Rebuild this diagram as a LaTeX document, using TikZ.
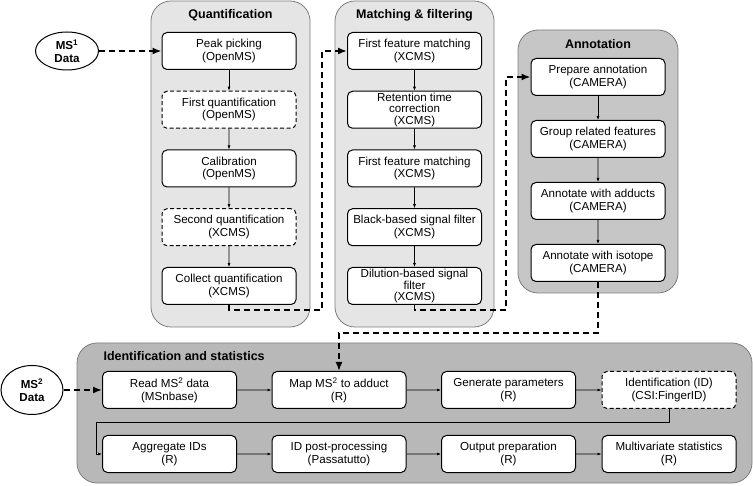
\documentclass[tikz,border=0pt]{standalone}
\usepackage{fontspec}
\setmainfont{Liberation Sans}
\usepackage{tikz}
\usetikzlibrary{trees,arrows.meta,shapes.geometric}

\definecolor{panellight}{RGB}{229,229,229}
\definecolor{panelmid}{RGB}{198,198,198}
\definecolor{paneldark}{RGB}{184,184,184}
\definecolor{panelline}{RGB}{125,125,125}

\begin{document}
\begin{tikzpicture}[x=1pt, y=-1pt,
  stepbox/.style={draw, line width=1pt, rounded corners=5pt, fill=white,
    minimum width=134pt, minimum height=37pt, align=center, inner sep=1pt,
    font=\fontsize{11.6}{12.5}\selectfont},
  tallbox/.style={stepbox, font=\fontsize{11.6}{11.5}\selectfont},
  optbox/.style={stepbox, dash pattern=on 4pt off 2.5pt},
  panel/.style={draw=panelline, line width=0.8pt, rounded corners=20pt},
  paneltitle/.style={font=\fontsize{12.5}{14}\selectfont\bfseries},
  datanode/.style={draw, ellipse, line width=1pt, fill=white, align=center,
    inner sep=0pt, font=\fontsize{11.6}{12.5}\selectfont\bfseries},
  bigflow/.style={line width=1.7pt, dash pattern=on 6pt off 4pt,
    -{Latex[length=9pt,width=7pt]}},
  smallflow/.style={line width=0.6pt, -{Latex[length=4pt,width=3pt]}},
  edge from parent/.style={draw, smallflow},
  grow=down]
  \useasboundingbox (0,0) rectangle (753,486);

  % panels
  \draw[panel, fill=panellight] (151,1) rectangle (310,327);
  \draw[panel, fill=panellight] (335,1) rectangle (494,327);
  \draw[panel, fill=panelmid] (518,30) rectangle (678,293);
  \draw[panel, fill=paneldark] (77,343) rectangle (752,483);

  \node[paneltitle] (quanttitle) at (230.5,15) {Quantification};
  \node[paneltitle] (matchtitle) at (414.5,15) {Matching \& filtering};
  \node[paneltitle] (annotitle) at (598,44) {Annotation};
  \node[paneltitle, anchor=west] (idtitle) at (100,356) {Identification and statistics};

  \node[datanode, minimum width=63pt, minimum height=38pt] (msone) at (67,51)
    {MS\textsuperscript{1}\\Data};
  \node[datanode, minimum width=62pt, minimum height=49pt] (mstwo) at (32,390)
    {MS\textsuperscript{2}\\Data};

  \begin{scope}[level distance=58.75pt]
    \node[stepbox] (peak) at (229,51) {Peak picking\\(OpenMS)}
    child { node[optbox] (quantone) {First quantification\\(OpenMS)}
        child { node[stepbox] (calib) {Calibration\\(OpenMS)}
            child { node[optbox] (quanttwo) {Second quantification\\(XCMS)}
                child { node[stepbox] (collect) {Collect quantification\\(XCMS)} }
            }
        }
    };
    \node[stepbox] (matchone) at (414.5,51) {First feature matching\\(XCMS)}
    child { node[tallbox] (rtcorr) {Retention time\\correction\\(XCMS)}
        child { node[stepbox] (matchtwo) {First feature matching\\(XCMS)}
            child { node[stepbox] (blankfilt) {Black-based signal filter\\(XCMS)}
                child { node[tallbox] (dilution) {Dilution-based signal\\filter\\(XCMS)} }
            }
        }
    };
  \end{scope}

  \begin{scope}[level distance=62pt]
    \node[stepbox] (prepare) at (598,77) {Prepare annotation\\(CAMERA)}
    child { node[stepbox] (group) {Group related features\\(CAMERA)}
        child { node[stepbox] (adducts) {Annotate with adducts\\(CAMERA)}
            child { node[stepbox] (isotope) {Annotate with isotope\\(CAMERA)} }
        }
    };
  \end{scope}

  \begin{scope}[grow=right, level distance=169.5pt, level 3/.style={level distance=160.5pt}]
    \node[stepbox] (readms) at (169.5,390) {Read MS\textsuperscript{2} data\\(MSnbase)}
    child { node[stepbox] (mapms) {Map MS\textsuperscript{2} to adduct\\(R)}
        child { node[stepbox] (genparam) {Generate parameters\\(R)}
            child { node[optbox] (ident) {Identification (ID)\\(CSI:FingerID)} }
        }
    };
    \node[stepbox] (aggregate) at (169.5,454) {Aggregate IDs\\(R)}
    child { node[stepbox] (postproc) {ID post-processing\\(Passatutto)}
        child { node[stepbox] (outprep) {Output preparation\\(R)}
            child { node[stepbox] (multistat) {Multivariate statistics\\(R)} }
        }
    };
  \end{scope}

  % links between the panels
  \coordinate (qbend) at (322,310);
  \coordinate (mbend) at (506,310);
  \coordinate (abend) at (339,333);
  \coordinate (rowbend) at (96,422);
  \draw[bigflow] (msone) -- (peak);
  \draw[bigflow] (mstwo) -- (readms);
  \draw[bigflow] (collect.south) |- (qbend) |- (matchone.west);
  \draw[bigflow] (dilution.south) |- (mbend) |- (prepare.west);
  \draw[bigflow] (isotope.south) |- (abend) -- (mapms.north);
  \draw[smallflow] (ident.south) |- (rowbend) |- (aggregate.west);
\end{tikzpicture}
\end{document}
